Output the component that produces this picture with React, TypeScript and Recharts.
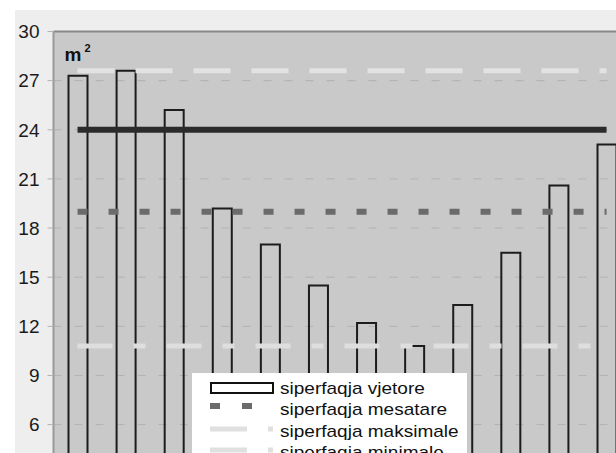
import React from 'react';
import {
  ComposedChart,
  Bar,
  XAxis,
  YAxis,
  CartesianGrid,
  ReferenceLine,
  Legend,
} from 'recharts';

const months = ['Jan', 'Shk', 'Mar', 'Pri', 'Maj', 'Qer', 'Kor', 'Gus', 'Sht', 'Tet', 'Nën', 'Dhj'];
const yearlyArea = [27.3, 27.6, 25.2, 19.2, 17.0, 14.5, 12.2, 10.8, 13.3, 16.5, 20.6, 23.1];
const yTicks = [6, 9, 12, 15, 18, 21, 24, 27, 30];

const meanArea = 19.0;
const maxArea = 27.6;
const minArea = 10.8;
const normArea = 24.0;

const legendLabels = ['siperfaqja vjetore', 'siperfaqja mesatare', 'siperfaqja maksimale', 'siperfaqja minimale'];

const data = months.map((m, i) => ({ month: m, area: yearlyArea[i] }));

const FONT = '"Liberation Sans", Arial, sans-serif';

const seg = (v: number) => [
  { x: months[0], y: v },
  { x: months[months.length - 1], y: v },
];

function LegendBox() {
  const textY = [20.5, 42, 63.5, 85];
  return (
    <svg width={275} height={100} style={{ display: 'block', background: '#fff' }}>
      <rect x={19} y={10} width={62} height={10} fill="#fff" stroke="#111" strokeWidth={2} />
      <line x1={18} x2={81} y1={33} y2={33} stroke="#6b6b6b" strokeWidth={6} strokeDasharray="10 22" />
      <line x1={18} x2={81} y1={56} y2={56} stroke="#e0e0e0" strokeWidth={5} strokeDasharray="37 21" />
      <line x1={18} x2={81} y1={77} y2={77} stroke="#e0e0e0" strokeWidth={5} strokeDasharray="37 21" />
      {legendLabels.map((t, i) => (
        <text
          key={t}
          transform={`translate(88 ${textY[i]}) scale(1.12 1)`}
          fontSize={17}
          fontFamily={FONT}
          fill="#111"
        >
          {t}
        </text>
      ))}
    </svg>
  );
}

const UnitLabel = ({ viewBox }: any) => (
  <text
    x={viewBox.x + viewBox.width + 11}
    y={viewBox.y + 29.5}
    fontSize={19}
    fontWeight="bold"
    fontFamily={FONT}
    fill="#111"
  >
    m
    <tspan dx={3} dy={-9} fontSize={11}>
      2
    </tspan>
  </text>
);

export default function App() {
  return (
    <div style={{ position: 'absolute', left: 0, top: 0, width: 616, height: 453, overflow: 'hidden', background: '#fff' }}>
      <div style={{ position: 'absolute', left: 15, top: 10, width: 640, height: 560, background: '#eeeeee' }}>
        <ComposedChart
          width={630}
          height={540}
          data={data}
          margin={{ top: 21.5, right: 14.4, bottom: 27.1, left: 0 }}
        >
          <CartesianGrid vertical={false} strokeDasharray="8 13" stroke="#b2b2b2" fill="#c9c9c9" />
          <XAxis dataKey="month" hide />
          <YAxis
            domain={[0, 30]}
            ticks={yTicks}
            width={38.5}
            tickSize={6}
            tickMargin={8}
            axisLine={{ stroke: '#999', strokeWidth: 2 }}
            tickLine={{ stroke: '#b2b2b2' }}
            tick={{ fontSize: 19, fill: '#1a1a1a', fontFamily: FONT }}
            label={{ content: UnitLabel }}
          />
          <ReferenceLine y={30} stroke="#888" strokeWidth={2} />
          <ReferenceLine segment={seg(maxArea)} stroke="#e2e2e2" strokeWidth={5} strokeDasharray="37 21" />
          <ReferenceLine segment={seg(minArea)} stroke="#dedede" strokeWidth={5} strokeDasharray="35 21 12 21" />
          <ReferenceLine segment={seg(meanArea)} stroke="#6b6b6b" strokeWidth={6} strokeDasharray="10 21" />
          <ReferenceLine segment={seg(normArea)} stroke="#2b2b2b" strokeWidth={6} />
          <Bar dataKey="area" fill="none" stroke="#1c1c1c" strokeWidth={2} barSize={19} isAnimationActive={false} />
          <Legend
            layout="vertical"
            align="center"
            verticalAlign="middle"
            wrapperStyle={{ left: 177, top: 363, width: 275, height: 100 }}
            content={() => <LegendBox />}
          />
        </ComposedChart>
      </div>
    </div>
  );
}
